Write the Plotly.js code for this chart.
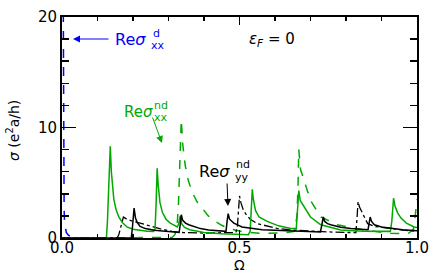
<!DOCTYPE html>
<html><head><meta charset="utf-8">
<script src="https://cdn.plot.ly/plotly-3.0.1.min.js"></script>
<style>html,body{margin:0;padding:0;background:#fff}#chart{width:436px;height:273px}</style>
</head><body><div id="chart"></div>
<script>
// Drude part Re sigma^d_xx (blue dashed)
const drudeX = [0.0035,0.004,0.0045,0.005,0.006,0.007,0.009,0.012,0.018,0.025,0.035,0.045];
const drudeY = [22,14,8,4.5,2.5,1.6,0.9,0.5,0.25,0.1,0.03,0];
// Re sigma^nd_xx (green solid)
const gsX = [0,0.125,0.128,0.131,0.134,0.136,0.139,0.142,0.146,0.152,0.16,0.17,0.183,0.2,0.22,0.24,0.258,0.262,0.265,0.268,0.271,0.276,0.283,0.293,0.305,0.325,0.329,0.333,0.337,0.345,0.36,0.4,0.45,0.5,0.525,0.53,0.533,0.536,0.539,0.545,0.555,0.578,0.61,0.644,0.66,0.663,0.667,0.671,0.682,0.7,0.729,0.785,0.85,0.907,0.925,0.929,0.934,0.938,0.945,0.955,0.97,0.992,1.0];
const gsY = [0,0,1.5,4,7.5,8.3,6.0,4.6,3.5,2.6,1.9,1.4,1.0,0.8,0.7,0.62,0.6,0.8,3,6.3,4.8,3.2,2.3,1.7,1.35,1.0,1.3,2.0,1.3,0.95,0.75,0.5,0.38,0.3,0.3,0.6,2.5,4.4,3.5,2.5,1.9,1.5,1.1,0.87,0.85,2,4.3,3.4,2.8,1.9,1.2,0.72,0.62,0.57,0.6,1.5,3.6,2.9,2.3,1.8,1.35,1.0,0.95];
// Re sigma^nd_xx (green dashed)
const gdX = [0,0.31,0.318,0.324,0.328,0.332,0.336,0.34,0.347,0.355,0.366,0.38,0.395,0.412,0.432,0.45,0.47,0.507,0.564,0.62,0.655,0.662,0.665,0.667,0.672,0.682,0.7,0.729,0.776,0.85,0.926,0.975,0.99,0.995,1.0];
const gdY = [0,0.05,0.3,1.0,3,7,10.7,8.5,6.6,5.3,4.2,3.3,2.7,2.0,1.5,1.15,0.87,0.57,0.42,0.45,0.6,2,5,8.0,6.2,5.2,3.4,1.9,1.2,0.72,0.42,0.4,0.8,2.0,3.5];
// Re sigma^nd_yy (black solid)
const bsX = [0,0.195,0.198,0.2,0.203,0.207,0.212,0.22,0.235,0.26,0.296,0.33,0.333,0.336,0.34,0.348,0.357,0.39,0.413,0.45,0.462,0.465,0.468,0.472,0.478,0.484,0.507,0.535,0.564,0.6,0.65,0.7,0.728,0.732,0.736,0.74,0.748,0.757,0.785,0.814,0.84,0.862,0.865,0.868,0.872,0.88,0.9,0.93,0.96,1.0];
const bsY = [0,0,0.8,1.8,2.7,1.8,1.4,1.05,0.85,0.7,0.57,0.5,1.2,2.1,1.6,1.35,1.2,0.85,0.72,0.58,0.6,1.5,2.2,1.7,1.5,1.35,1.0,0.85,0.75,0.7,0.64,0.6,0.55,1.2,1.9,1.5,1.3,1.2,0.97,0.87,0.8,0.75,1.3,1.9,1.5,1.2,1.0,0.85,0.75,0.65];
// dash-dot black
const ddX = [0,0.155,0.16,0.165,0.169,0.173,0.18,0.2,0.22,0.25,0.28,0.31,0.34,0.4,0.45,0.49,0.494,0.497,0.5,0.504,0.51,0.517,0.53,0.55,0.58,0.606,0.65,0.7,0.75,0.8,0.828,0.831,0.834,0.838,0.847,0.861,0.88,0.917,0.96,1.0];
const ddY = [0,0,0.3,0.9,1.5,1.9,1.75,1.5,1.35,1.05,0.8,0.6,0.5,0.45,0.47,0.5,1.0,2.5,3.8,3.2,2.6,2.2,1.7,1.3,1.05,0.87,0.72,0.62,0.55,0.5,0.5,1.8,3.3,2.8,2.2,1.3,1.05,0.87,0.72,0.6];

const GREEN = '#00a800', BLUE = '#0000ff';
const F = 'DejaVu Sans, Arial, sans-serif';

const traces = [
  {x: gdX, y: gdY, mode:'lines', line:{color:GREEN, width:1.5, dash:'dash'}},
  {x: ddX, y: ddY, mode:'lines', line:{color:'#000', width:1.3, dash:'dashdot'}},
  {x: gsX, y: gsY, mode:'lines', line:{color:GREEN, width:1.5}},
  {x: bsX, y: bsY, mode:'lines', line:{color:'#000', width:1.5}},
  {x: drudeX, y: drudeY, mode:'lines', line:{color:BLUE, width:1.5, dash:'dash'}}
];

function lab(x, y, t, c, size, anchor) {
  return {x:x, y:y, xref:'x', yref:'y', text:t, showarrow:false, xanchor:anchor||'left', yanchor:'middle', font:{family:F, size:size, color:c}};
}
function arr(x, y, ax, ay, c) {
  return {x:x, y:y, xref:'x', yref:'y', text:'', showarrow:true, ax:ax, ay:ay, arrowcolor:c, arrowwidth:1, arrowhead:2, arrowsize:1.4, standoff:0, startstandoff:0};
}
const px2x = p => (p-62)/355;
const px2y = p => (238-p)/11.05;

const annotations = [
  lab(px2x(247), px2y(39), '<i>ε</i><sub><i>F</i></sub> = 0', '#000', 15),
  // blue label
  lab(px2x(113), px2y(39), 'Re<i>σ</i>', BLUE, 16),
  lab(px2x(151), px2y(33), 'd', BLUE, 11),
  lab(px2x(149), px2y(45), 'xx', BLUE, 11),
  arr(px2x(73), px2y(39), 37, 0, BLUE),
  // green label
  lab(px2x(122), px2y(112), 'Re<i>σ</i>', GREEN, 15),
  lab(px2x(152), px2y(105), 'nd', GREEN, 11),
  lab(px2x(152), px2y(117), 'xx', GREEN, 11),
  arr(px2x(162), px2y(143), -10, -27, GREEN),
  // black label
  lab(px2x(197), px2y(171), 'Re<i>σ</i>', '#000', 16),
  lab(px2x(234), px2y(164), 'nd', '#000', 11),
  lab(px2x(233), px2y(177), 'yy', '#000', 11),
  arr(px2x(228), px2y(206), -1, -24, '#000'),
  // axis titles
  {xref:'paper', yref:'paper', x:(13-62)/355, y:(238-130)/221, text:'<i>σ</i> (e<sup>2</sup>a/h)', textangle:-90, showarrow:false, xanchor:'center', yanchor:'middle', font:{family:F, size:14, color:'#000'}},
  {xref:'paper', yref:'paper', x:(239-62)/355, y:(238-265)/221, text:'Ω', showarrow:false, xanchor:'center', yanchor:'middle', font:{family:F, size:14, color:'#000'}}
];

const layout = {
  width:436, height:273,
  margin:{l:62, r:19, t:17, b:35},
  paper_bgcolor:'#fff', plot_bgcolor:'#fff',
  showlegend:false,
  font:{family:F, size:15, color:'#000'},
  xaxis:{range:[0,1], dtick:0.5, tick0:0, tickformat:'.1f', ticks:'inside', ticklen:8, tickwidth:1.5, tickcolor:'#000',
         showline:true, linewidth:2, linecolor:'#000', mirror:'ticks', showgrid:false, zeroline:false,
         minor:{dtick:0.1, tick0:0, ticks:'inside', ticklen:4, tickwidth:1.5, tickcolor:'#000', showgrid:false},
         tickfont:{family:F, size:15}, ticklabelstandoff:-5},
  yaxis:{range:[0,20], dtick:10, tick0:0, ticks:'inside', ticklen:14, tickwidth:1.5, tickcolor:'#000',
         showline:true, linewidth:2, linecolor:'#000', mirror:'ticks', showgrid:false, zeroline:false,
         minor:{dtick:2, tick0:0, ticks:'inside', ticklen:7, tickwidth:1.5, tickcolor:'#000', showgrid:false},
         tickfont:{family:F, size:15}},
  annotations: annotations
};
Plotly.newPlot('chart', traces, layout, {displayModeBar:false, staticPlot:true});
</script></body></html>
